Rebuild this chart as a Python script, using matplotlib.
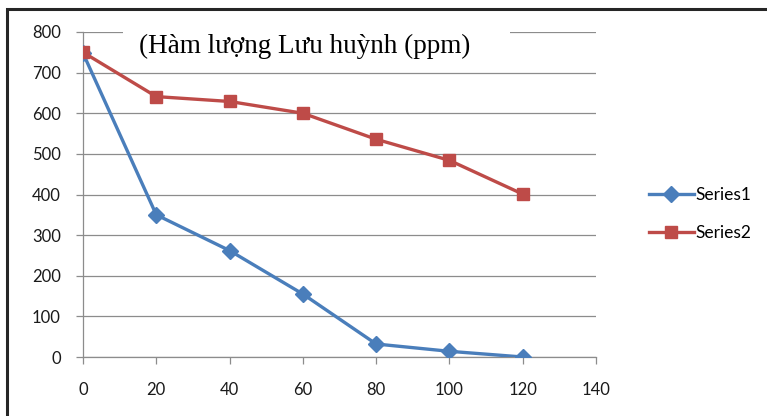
import matplotlib
matplotlib.use("Agg")
import matplotlib.pyplot as plt
from matplotlib.patches import Rectangle

# data
x_vals = [0, 20, 40, 60, 80, 100, 120]
series1 = [748, 350, 262, 155, 32, 14, 0]
series2 = [750, 641, 629, 600, 536, 484, 401]
title_text = "(Hàm lượng Lưu huỳnh (ppm)"

blue = '#4A7EBB'
red = '#BE4B48'
grid_c = '#8C8C8C'

plt.rcParams['font.family'] = ['Lato', 'DejaVu Sans']

fig = plt.figure(figsize=(7.67, 4.16), dpi=100)
fig.patch.set_facecolor('white')

# dark frame around the chart (left/top visible)
fig.patches.append(Rectangle((7/767, -0.1), 1.2, (416 - 9) / 416 + 0.1,
                             transform=fig.transFigure, fill=False,
                             edgecolor='#262626', linewidth=2.2, zorder=0))

ax = fig.add_axes([83/767, 1 - 357/416, (596 - 83)/767, (357 - 32)/416])
ax.plot(x_vals, series1, color=blue, lw=2.4, marker='D', ms=8,
        label='Series1', zorder=3)
ax.plot(x_vals, series2, color=red, lw=2.4, marker='s', ms=8.5,
        label='Series2', zorder=3)

ax.set_xlim(0, 140)
ax.set_ylim(0, 800)
ax.set_xticks(range(0, 141, 20))
ax.set_yticks(range(0, 801, 100))
ax.yaxis.grid(True, color=grid_c, lw=0.9)
ax.set_axisbelow(True)
for s in ['top', 'right']:
    ax.spines[s].set_visible(False)
for s in ['left', 'bottom']:
    ax.spines[s].set_color(grid_c)
    ax.spines[s].set_linewidth(0.9)
ax.tick_params(axis='both', colors=grid_c, labelcolor='#1a1a1a',
               labelsize=12, length=5, width=0.9)
ax.tick_params(axis='x', pad=13)
ax.tick_params(axis='y', pad=11)

# white title box covering gridlines
ax.add_patch(Rectangle((40/513, 1 - 40/325), (510 - 123)/513, 60/325,
                       transform=ax.transAxes, facecolor='white',
                       edgecolor='none', clip_on=False, zorder=2.5))
ax.text(222/513, 1 - 14/325, title_text, transform=ax.transAxes,
        ha='center', va='center', family='Liberation Serif', fontsize=19.5,
        color='black', zorder=4)

fig.legend(loc='center left', bbox_to_anchor=(633/767, 1 - 214/416), frameon=False,
           fontsize=12.5, handlelength=2.6, labelspacing=1.25, handletextpad=0.1)

fig.savefig('out.png', dpi=100)
